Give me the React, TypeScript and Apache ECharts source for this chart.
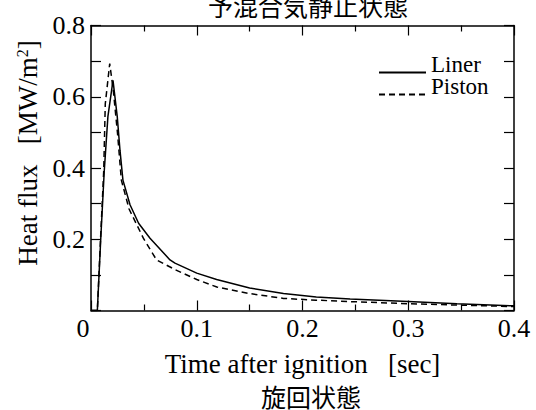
import React, { useEffect, useRef } from "react";
import * as echarts from "echarts";

const linerTime = [0, 0.006, 0.0092, 0.0125, 0.016, 0.0208, 0.0248, 0.0274, 0.0302, 0.0369, 0.045, 0.0558, 0.0747, 0.0794, 0.1, 0.1188, 0.15, 0.182, 0.213, 0.245, 0.3, 0.346, 0.4];
const linerFlux = [0, 0, 0.2, 0.39, 0.545, 0.646, 0.545, 0.45, 0.366, 0.297, 0.245, 0.203, 0.142, 0.133, 0.105, 0.087, 0.063, 0.048, 0.038, 0.032, 0.025, 0.019, 0.013];
const pistonTime = [0, 0.006, 0.009, 0.012, 0.0135, 0.0177, 0.021, 0.025, 0.0287, 0.036, 0.0495, 0.0558, 0.062, 0.0794, 0.1, 0.119, 0.15, 0.182, 0.213, 0.245, 0.3, 0.35, 0.4];
const pistonFlux = [0, 0, 0.2, 0.39, 0.58, 0.693, 0.62, 0.5, 0.366, 0.285, 0.203, 0.172, 0.142, 0.115, 0.087, 0.066, 0.0475, 0.034, 0.029, 0.025, 0.019, 0.015, 0.011];

const seriesNames = ["Liner", "Piston"];
const topTitle = "予混合気静止状態";
const bottomTitle = "旋回状態";
const xName = "Time after ignition   [sec]";

const SERIF = "'Liberation Serif', 'Times New Roman', serif";
const CJK = "'Noto Sans CJK JP', 'Noto Sans CJK SC', sans-serif";

export default function App() {
  const ref = useRef<HTMLDivElement>(null);
  useEffect(() => {
    if (!ref.current) return;
    const chart = echarts.init(ref.current, null, { renderer: "svg" });
    const axisLine = { show: true, onZero: false, lineStyle: { color: "#000", width: 1.5 } };
    const tickStyle = { color: "#000", width: 1.2 };
    const xCommon = {
      type: "value",
      min: 0,
      max: 0.4,
      interval: 0.1,
      axisLine,
      axisTick: { show: true, inside: true, length: 10, lineStyle: tickStyle },
      minorTick: { show: true, splitNumber: 2, length: 6, lineStyle: tickStyle },
      splitLine: { show: false },
      minorSplitLine: { show: false },
    };
    const yCommon = {
      type: "value",
      min: 0,
      max: 0.8,
      interval: 0.2,
      axisLine,
      axisTick: { show: true, inside: true, length: 10, lineStyle: tickStyle },
      minorTick: { show: true, splitNumber: 2, length: 10, lineStyle: tickStyle },
      splitLine: { show: false },
      minorSplitLine: { show: false },
    };
    chart.setOption({
      animation: false,
      backgroundColor: "#fff",
      title: [
        {
          text: topTitle,
          left: 208,
          top: -8,
          padding: 0,
          textStyle: { fontFamily: CJK, fontSize: 25, fontWeight: "normal", color: "#000" },
        },
        {
          text: bottomTitle,
          left: 261,
          top: 383,
          padding: 0,
          textStyle: { fontFamily: CJK, fontSize: 25, fontWeight: "normal", color: "#000" },
        },
      ],
      legend: {
        orient: "vertical",
        left: 378,
        top: 53,
        padding: 0,
        itemGap: -17,
        itemWidth: 47,
        itemHeight: 14,
        data: seriesNames,
        formatter: (name: string) => name + "\n ",
        itemStyle: { color: "rgba(0,0,0,0)", borderColor: "rgba(0,0,0,0)", borderWidth: 0 },
        textStyle: {
          fontFamily: SERIF,
          fontSize: 23,
          lineHeight: 16,
          color: "#000",
        },
      },
      grid: { left: 91, right: 22, top: 25.5, bottom: 99.5, containLabel: false },
      xAxis: [
        {
          ...xCommon,
          position: "bottom",
          name: xName,
          nameLocation: "middle",
          nameGap: 40,
          nameTextStyle: { fontFamily: SERIF, fontSize: 27, color: "#000" },
          axisLabel: {
            margin: 5,
            fontFamily: SERIF,
            fontSize: 26,
            color: "#000",
            formatter: (v: number) => (v === 0 ? "{z|0}" : v.toFixed(1)),
            rich: { z: { fontFamily: SERIF, fontSize: 26, color: "#000", padding: [0, 16, 0, 0] } },
          },
        },
        {
          ...xCommon,
          position: "top",
          axisLabel: { show: false },
        },
      ],
      yAxis: [
        {
          ...yCommon,
          position: "left",
          name: "Heat flux   [MW/m{sup|2}]",
          nameLocation: "middle",
          nameGap: 48,
          nameTextStyle: {
            fontFamily: SERIF,
            fontSize: 27,
            color: "#000",
            padding: [0, 0, 0, 30],
            rich: {
              sup: { fontFamily: SERIF, fontSize: 16, color: "#000", verticalAlign: "top" },
            },
          },
          axisLabel: {
            margin: 6,
            fontFamily: SERIF,
            fontSize: 26,
            color: "#000",
            formatter: (v: number) => (v === 0 ? "" : v.toFixed(1)),
          },
        },
        {
          ...yCommon,
          position: "right",
          axisLabel: { show: false },
        },
      ],
      series: [
        {
          name: seriesNames[0],
          type: "line",
          xAxisIndex: 0,
          yAxisIndex: 0,
          symbol: "none",
          lineStyle: { color: "#000", width: 1.5, type: "solid" },
          itemStyle: { color: "#000" },
          data: linerTime.map((t, i) => [t, linerFlux[i]]),
        },
        {
          name: seriesNames[1],
          type: "line",
          xAxisIndex: 0,
          yAxisIndex: 0,
          symbol: "none",
          lineStyle: { color: "#000", width: 1.5, type: [6, 4] },
          itemStyle: { color: "#000" },
          data: pistonTime.map((t, i) => [t, pistonFlux[i]]),
        },
      ],
    });
    return () => chart.dispose();
  }, []);
  return <div ref={ref} style={{ width: 536, height: 410, position: "absolute", left: 0, top: 0 }} />;
}
